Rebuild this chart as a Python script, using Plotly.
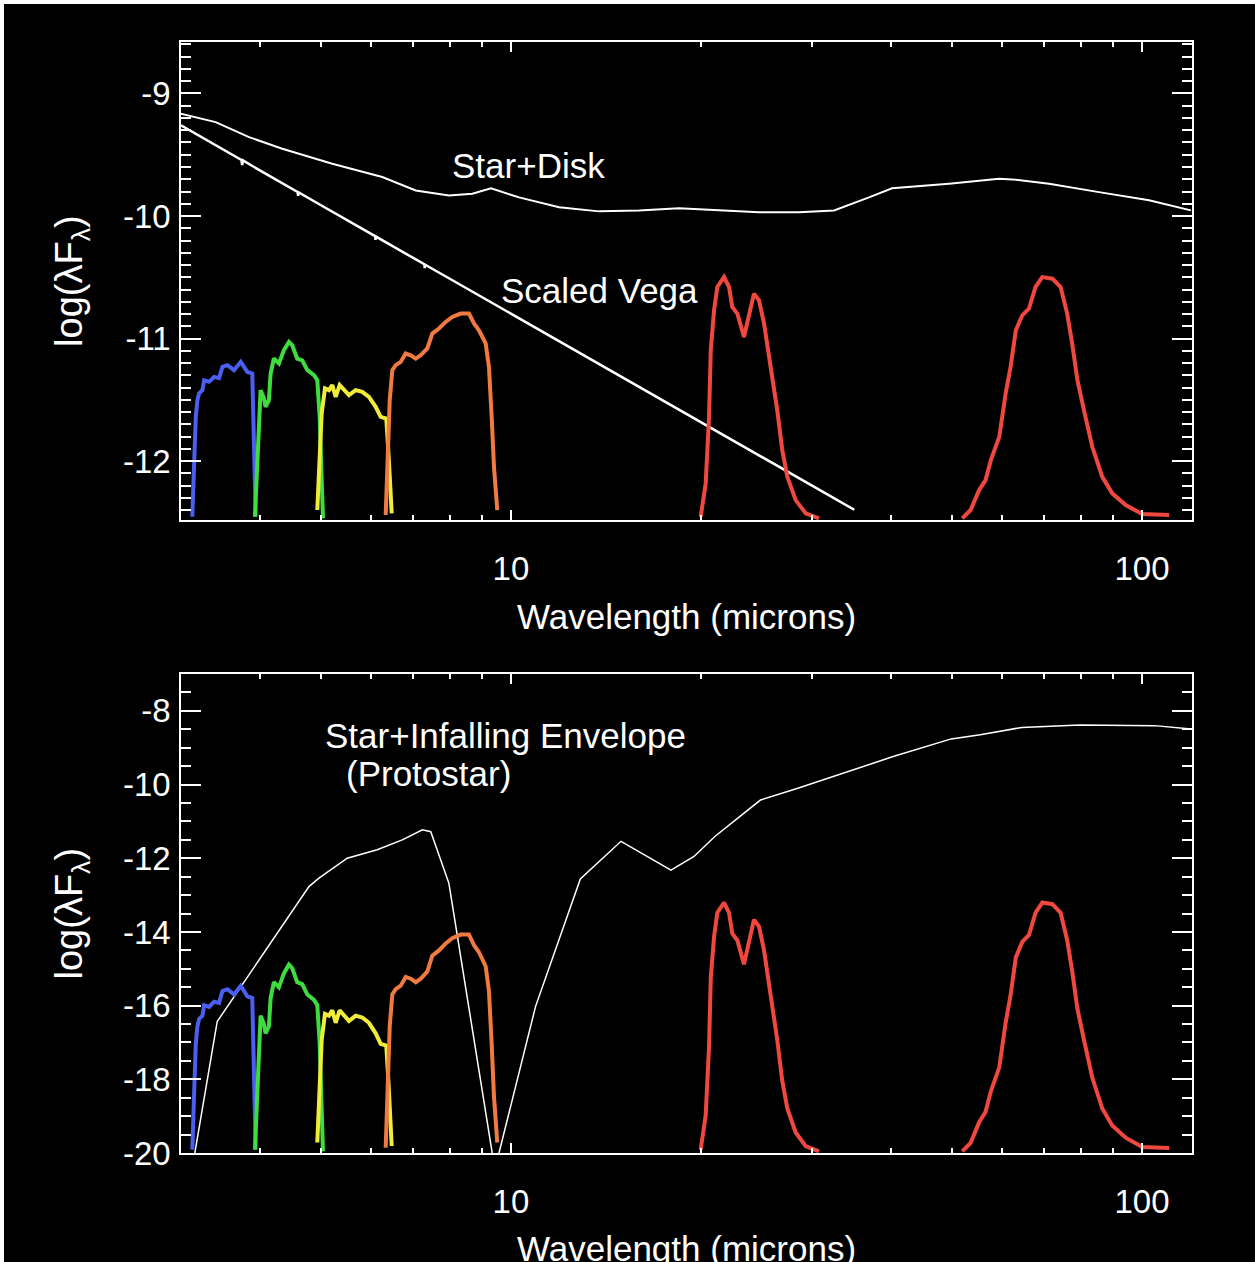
import math
import plotly.graph_objects as go

# ---------------- data ----------------
# Wavelength in microns, flux in log(lambda F_lambda)
disk_wl = [2.996, 3.404, 3.845, 4.341, 5.210, 6.252, 7.065, 7.974, 8.685, 9.297, 10.30, 11.92,
           13.79, 15.96, 18.46, 21.36, 24.72, 28.61, 32.51, 36.93, 40.17, 49.45, 59.36, 62.23,
           71.24, 85.47, 102.6, 119.5]
disk_flux = [-9.165, -9.234, -9.356, -9.451, -9.573, -9.682, -9.791, -9.832, -9.818, -9.774,
             -9.848, -9.929, -9.962, -9.954, -9.937, -9.954, -9.970, -9.970, -9.954, -9.848,
             -9.774, -9.736, -9.695, -9.701, -9.736, -9.805, -9.872, -9.954]

vega_wl = [3.0, 3.2, 3.74, 3.75, 3.76, 4.0, 4.59, 4.60, 4.61, 5.0, 5.5, 6.09, 6.10, 6.11,
           7.0, 7.29, 7.30, 7.31, 8.0, 9.0, 10.0, 12.0, 15.0, 20.0, 25.0, 30.0, 35.0]
vega_flux = [-9.26, -9.342, -9.543, -9.585, -9.546, -9.628, -9.804, -9.835, -9.808, -9.912,
             -10.034, -10.164, -10.195, -10.168, -10.342, -10.393, -10.425, -10.397, -10.512,
             -10.663, -10.797, -11.030, -11.315, -11.682, -11.967, -12.20, -12.397]

proto_wl = [3.13, 3.424, 4.785, 4.963, 5.502, 6.138, 6.726, 7.239, 7.463, 7.974, 9.43, 10.94,
            12.88, 14.94, 17.93, 19.50, 21.04, 24.85, 28.48, 34.15, 40.33, 49.85, 55.41, 64.45,
            71.69, 79.68, 104.6, 111.1, 119.6]
proto_flux = [-20.35, -16.43, -12.77, -12.54, -12.00, -11.77, -11.50, -11.23, -11.28, -12.68,
              -20.45, -16.02, -12.56, -11.54, -12.32, -11.95, -11.41, -10.42, -10.10, -9.65,
              -9.24, -8.76, -8.65, -8.45, -8.41, -8.38, -8.40, -8.44, -8.49]

# Filter bandpasses as drawn in the upper panel (log units of that panel)
irac1_wl = [3.126, 3.146, 3.166, 3.185, 3.205, 3.244, 3.264, 3.324, 3.385, 3.447, 3.490, 3.553,
            3.641, 3.731, 3.821, 3.891, 3.916, 3.940]
irac1_resp = [-12.454, -12.049, -11.639, -11.503, -11.446, -11.421, -11.340, -11.353, -11.313,
              -11.323, -11.231, -11.217, -11.258, -11.190, -11.272, -11.285, -11.772, -12.454]

irac2_wl = [3.929, 3.962, 3.987, 4.011, 4.060, 4.085, 4.135, 4.160, 4.210, 4.288, 4.367, 4.448,
            4.501, 4.584, 4.669, 4.757, 4.874, 4.933, 4.976, 5.012, 5.036]
irac2_resp = [-12.454, -12.046, -11.584, -11.421, -11.486, -11.557, -11.503, -11.285, -11.163,
              -11.203, -11.095, -11.027, -11.054, -11.163, -11.177, -11.258, -11.299, -11.340,
              -11.639, -12.046, -12.467]

irac3_wl = [4.933, 4.976, 5.012, 5.073, 5.148, 5.210, 5.275, 5.352, 5.437, 5.538, 5.675, 5.813,
            5.956, 6.104, 6.216, 6.345, 6.392, 6.449, 6.472]
irac3_resp = [-12.399, -11.910, -11.611, -11.407, -11.421, -11.380, -11.476, -11.380, -11.421,
              -11.462, -11.421, -11.435, -11.476, -11.557, -11.639, -11.652, -11.910, -12.209,
              -12.426]

irac4_wl = [6.331, 6.392, 6.425, 6.486, 6.567, 6.688, 6.811, 6.937, 7.065, 7.195, 7.370, 7.505,
            7.690, 7.880, 8.072, 8.324, 8.579, 8.738, 8.898, 9.118, 9.228, 9.320, 9.399, 9.512]
irac4_resp = [-12.440, -11.910, -11.503, -11.258, -11.217, -11.190, -11.122, -11.136, -11.163,
              -11.136, -11.081, -10.959, -10.918, -10.864, -10.824, -10.796, -10.796, -10.877,
              -10.932, -11.040, -11.231, -11.639, -12.046, -12.399]

mips24_wl = [19.98, 20.35, 20.60, 20.73, 20.98, 21.23, 21.76, 22.16, 22.42, 22.84, 23.40, 23.84,
             24.27, 24.72, 25.18, 25.79, 26.42, 26.91, 27.41, 28.26, 29.31, 30.77]
mips24_resp = [-12.454, -12.182, -11.639, -11.095, -10.769, -10.579, -10.498, -10.579, -10.742,
               -10.796, -10.987, -10.796, -10.633, -10.688, -10.877, -11.231, -11.584, -11.910,
               -12.128, -12.318, -12.426, -12.467]

mips70_wl = [51.9, 53.5, 55.2, 56.5, 57.6, 59.4, 60.8, 61.9, 63.1, 64.6, 66.2, 67.8, 69.5, 72.1,
             74.3, 76.1, 77.5, 79.0, 80.9, 83.4, 86.5, 89.7, 94.2, 100.1, 110.4]
mips70_resp = [-12.467, -12.399, -12.236, -12.155, -11.992, -11.802, -11.448, -11.231, -10.932,
               -10.810, -10.755, -10.579, -10.498, -10.511, -10.579, -10.796, -11.040, -11.340,
               -11.584, -11.883, -12.128, -12.263, -12.359, -12.432, -12.440]

band_colors = ["#4a5ef0", "#3edc3e", "#f0ec3a", "#f07a40", "#f0483e", "#f0483e"]
band_groups = ["irac", "irac", "irac", "irac", "mips", "mips"]

x_major_vals = [10, 100]
x_major_text = ["10", "100"]
x_minor_vals = [3, 4, 5, 6, 7, 8, 9, 20, 30, 40, 50, 60, 70, 80, 90]
top_y_vals = [-12, -11, -10, -9]
top_y_text = ["-12", "-11", "-10", "-9"]
bot_y_vals = [-20, -18, -16, -14, -12, -10, -8]
bot_y_text = ["-20", "-18", "-16", "-14", "-12", "-10", "-8"]

# bandpass curves are re-plotted in the lower panel, rescaled from the upper floor
TOP_FLOOR = -12.48
BOT_FLOOR = -20.0
BOT_GAIN = {"irac": 3.52, "mips": 3.43}

FONT = "Liberation Sans, Arial, Helvetica, sans-serif"
fig = go.Figure()

bands = [(irac1_wl, irac1_resp), (irac2_wl, irac2_resp), (irac3_wl, irac3_resp),
         (irac4_wl, irac4_resp), (mips24_wl, mips24_resp), (mips70_wl, mips70_resp)]

# top panel
fig.add_trace(go.Scatter(x=disk_wl, y=disk_flux, mode="lines", line=dict(color="white", width=2),
                         xaxis="x", yaxis="y", showlegend=False))
fig.add_trace(go.Scatter(x=vega_wl, y=vega_flux, mode="lines", line=dict(color="white", width=2.5),
                         xaxis="x", yaxis="y", showlegend=False))
for (wl, resp), col in zip(bands, band_colors):
    fig.add_trace(go.Scatter(x=wl, y=resp, mode="lines", line=dict(color=col, width=4),
                             xaxis="x", yaxis="y", showlegend=False))

# bottom panel
fig.add_trace(go.Scatter(x=proto_wl, y=proto_flux, mode="lines", line=dict(color="white", width=1.5),
                         xaxis="x2", yaxis="y2", showlegend=False))
for (wl, resp), col, grp in zip(bands, band_colors, band_groups):
    yb = [BOT_FLOOR + BOT_GAIN[grp] * (v - TOP_FLOOR) for v in resp]
    fig.add_trace(go.Scatter(x=wl, y=yb, mode="lines", line=dict(color=col, width=4),
                             xaxis="x2", yaxis="y2", showlegend=False))

xr = [math.log10(3), math.log10(120)]


def xaxis_cfg(anchor):
    return dict(type="log", range=xr, anchor=anchor, showline=True, linecolor="white", linewidth=1.5,
                mirror="ticks", ticks="inside", ticklen=10, tickwidth=1.5, tickcolor="white",
                tickmode="array", tickvals=x_major_vals, ticktext=x_major_text,
                tickfont=dict(family=FONT, size=33, color="white"), ticklabelstandoff=19,
                showgrid=False, zeroline=False,
                minor=dict(ticks="inside", ticklen=5, tickwidth=1.5, tickcolor="white",
                           tickmode="array", tickvals=x_minor_vals, showgrid=False))


def yaxis_cfg(anchor, domain, rng, vals, text, minor_dtick):
    return dict(domain=domain, range=rng, anchor=anchor, showline=True, linecolor="white",
                linewidth=1.5, mirror="ticks", ticks="inside", ticklen=20, tickwidth=1.5,
                tickcolor="white", tickmode="array", tickvals=vals, ticktext=text,
                tickfont=dict(family=FONT, size=33, color="white"), ticklabelstandoff=2,
                showgrid=False, zeroline=False,
                minor=dict(ticks="inside", ticklen=10, tickwidth=1.5, tickcolor="white",
                           dtick=minor_dtick, tick0=0, showgrid=False))


fig.update_layout(
    width=1255, height=1262,
    margin=dict(l=181, r=63, t=42, b=109),
    paper_bgcolor="black", plot_bgcolor="black",
    font=dict(family=FONT, color="white"),
    xaxis=xaxis_cfg("y"),
    yaxis=yaxis_cfg("x", [0.5698, 1.0], [-12.48, -8.58], top_y_vals, top_y_text, 0.1),
    xaxis2=xaxis_cfg("y2"),
    yaxis2=yaxis_cfg("x2", [0.0, 0.4311], [-20, -7], bot_y_vals, bot_y_text, 0.5),
)

ann_font = dict(family=FONT, size=35, color="white")
ytitle_font = dict(family=FONT, size=38, color="white")


def ann(text, x, y, xref, yref, angle=0, font=ann_font):
    return dict(text=text, x=x, y=y, xref=xref, yref=yref, showarrow=False, font=font,
                xanchor="center", yanchor="middle", textangle=angle)


annotations = [
    ann("Star+Disk", math.log10(10.67), -9.587, "x", "y"),
    ann("Scaled Vega", math.log10(13.8), -10.606, "x", "y"),
    ann("Star+Infalling Envelope", math.log10(9.82), -8.68, "x2", "y2"),
    ann("(Protostar)", math.log10(7.41), -9.71, "x2", "y2"),
    ann("Wavelength (microns)", 0.5, 0.4833, "paper", "paper"),
    ann("Wavelength (microns)", 0.5, -0.0864, "paper", "paper"),
    ann("log(λF<sub>λ</sub>)", -0.1078, 0.785, "paper", "paper", -90, ytitle_font),
    ann("log(λF<sub>λ</sub>)", -0.1078, 0.2156, "paper", "paper", -90, ytitle_font),
]
fig.update_layout(annotations=annotations)

# thin white frame strips along the top and left edges of the image
fig.update_layout(shapes=[
    dict(type="rect", xref="paper", yref="paper", x0=-0.19, x1=-0.1751, y0=-0.2, y1=1.05,
         fillcolor="white", line=dict(width=0), layer="above"),
    dict(type="rect", xref="paper", yref="paper", x0=-0.19, x1=1.1, y0=1.0342, y1=1.05,
         fillcolor="white", line=dict(width=0), layer="above"),
])

fig.write_html(
    "out.html",
    config={"displayModeBar": False},
    post_script="document.body.style.margin='0px';document.body.style.padding='0px';"
                "document.body.style.overflow='hidden';",
)
